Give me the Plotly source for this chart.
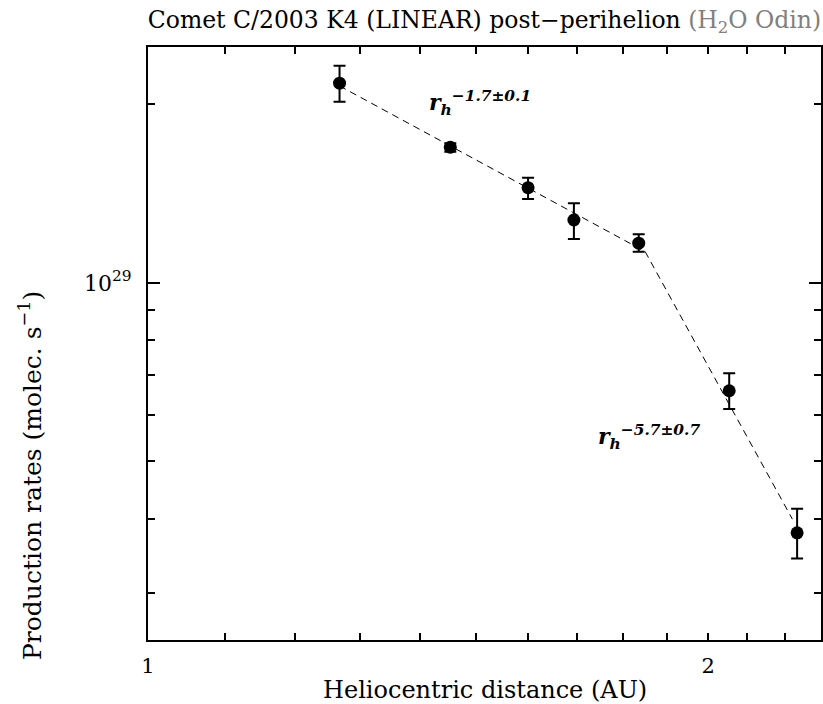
import numpy as np
import plotly.graph_objects as go

# ---- data ----
r_h = [1.2675, 1.4537, 1.6006, 1.694, 1.8355, 2.053, 2.233]          # AU
q = [2.172e29, 1.694e29, 1.448e29, 1.277e29, 1.167e29, 0.658e29, 0.379e29]
q_err_plus = [0.153e29, 0.026e29, 0.057e29, 0.086e29, 0.041e29, 0.046e29, 0.037e29]
q_err_minus = [0.151e29, 0.029e29, 0.062e29, 0.091e29, 0.038e29, 0.045e29, 0.036e29]

# power-law fits (dashed lines)
fit_break_r = 1.85
fit_break_q = 1.13e29
fit1_exp = -1.7
fit2_exp = -5.7
fit1_r = [1.2675, 1.85]
fit2_r = [1.85, 2.22]

x_tickvals = [1.0, 1.1, 1.2, 1.3, 1.4, 1.5, 1.6, 1.7, 1.8, 1.9, 2.0, 2.1, 2.2, 2.3]
x_ticktext = ["1", "", "", "", "", "", "", "", "", "", "2", "", "", ""]
y_major = [1e29]
y_major_text = ["10<sup>29</sup>"]
y_minor = [3e28, 4e28, 5e28, 6e28, 7e28, 8e28, 9e28, 2e29]

FONT = "DejaVu Serif"

def powerlaw(rs, e):
    rs = np.array(rs)
    return fit_break_q * (rs / fit_break_r) ** e

fig = go.Figure()
for rs, e in [(fit1_r, fit1_exp), (fit2_r, fit2_exp)]:
    fig.add_trace(go.Scatter(x=rs, y=powerlaw(rs, e), mode="lines",
                             line=dict(color="black", width=1, dash="7px,5px"),
                             showlegend=False, hoverinfo="skip"))

fig.add_trace(go.Scatter(
    x=r_h, y=q, mode="markers",
    marker=dict(color="black", size=13),
    error_y=dict(type="data", array=q_err_plus, arrayminus=q_err_minus,
                 color="black", thickness=2, width=6),
    showlegend=False))

fig.update_layout(
    width=823, height=704,
    margin=dict(l=148, r=2, t=47, b=64, autoexpand=False),
    plot_bgcolor="white", paper_bgcolor="white",
    font=dict(family=FONT, color="black", size=19),
    title=dict(text="Comet C/2003 K4 (LINEAR) post−perihelion "
                    "<span style='color:#808080'>(H<sub>2</sub>O Odin)</span>",
               x=0.5, xref="paper", xanchor="center", y=1 - 20 / 704, yanchor="middle",
               font=dict(family=FONT, size=23.5, color="black")),
)

fig.update_xaxes(
    type="log", range=[0, np.log10(2.3)],
    tickmode="array", tickvals=x_tickvals, ticktext=x_ticktext,
    ticks="inside", ticklen=7, tickwidth=1.5, tickcolor="black",
    showline=True, linewidth=2, linecolor="black", mirror="ticks",
    showgrid=False, zeroline=False, automargin=False,
    tickfont=dict(family=FONT, size=21), ticklabelstandoff=6,
)
fig.update_yaxes(
    type="log", range=[np.log10(2.5e28), np.log10(2.5e29)],
    tickmode="array", tickvals=y_major, ticktext=y_major_text,
    ticks="inside", ticklen=12, tickwidth=1.5, tickcolor="black",
    minor=dict(tickmode="array", tickvals=y_minor, ticks="inside", ticklen=7,
               tickwidth=1.5, tickcolor="black", showgrid=False),
    showline=True, linewidth=2, linecolor="black", mirror="ticks",
    showgrid=False, zeroline=False, automargin=False,
    tickfont=dict(family=FONT, size=22), ticklabelstandoff=10,
)

fig.add_annotation(x=np.log10(1.413), y=np.log10(2.012e29), xref="x", yref="y",
                   text="<b><i>r<sub>h</sub></i></b><sup><b><i>−1.7±0.1</i></b></sup>",
                   showarrow=False, xanchor="left", yanchor="middle",
                   font=dict(family=FONT, size=22))
fig.add_annotation(x=np.log10(1.741), y=np.log10(5.50e28), xref="x", yref="y",
                   text="<b><i>r<sub>h</sub></i></b><sup><b><i>−5.7±0.7</i></b></sup>",
                   showarrow=False, xanchor="left", yanchor="middle",
                   font=dict(family=FONT, size=22))
fig.add_annotation(x=0.5, y=-(690 - 640) / 593, xref="paper", yref="paper",
                   text="Heliocentric distance (AU)",
                   showarrow=False, xanchor="center", yanchor="middle",
                   font=dict(family=FONT, size=24))
fig.add_annotation(x=-(148 - 30) / 673, y=(640 - 476) / 593, xref="paper", yref="paper",
                   text="Production rates (molec. s<sup>−1</sup>)",
                   textangle=-90, showarrow=False, xanchor="center", yanchor="middle",
                   font=dict(family=FONT, size=25))

fig.write_html("out.html", config={"displayModeBar": False},
               post_script="document.body.style.margin='0px';")
